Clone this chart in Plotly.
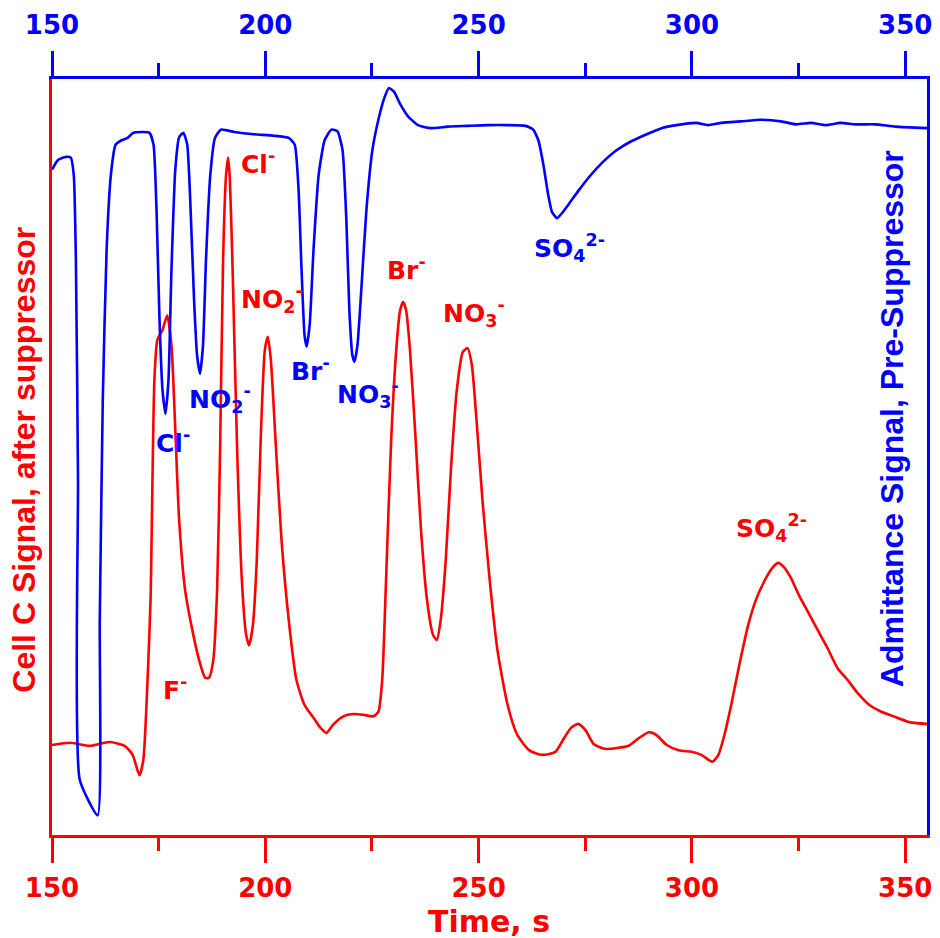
import plotly.graph_objects as go

# ---- data (time in s, signals in arbitrary units 0-100) ----
red_t = [150.0,154.2,158.9,163.5,167.0,168.9,170.5,171.4,172.4,173.1,174.0,174.7,175.9,177.0,178.0,178.9,179.8,181.2,182.9,184.5,185.9,186.8,187.8,188.7,189.4,190.1,190.8,191.3,191.7,192.4,193.4,194.5,195.5,196.2,197.1,198.0,199.0,199.9,200.6,201.3,202.4,203.8,205.5,207.3,209.2,211.3,212.9,214.3,215.9,218.3,220.6,223.0,225.3,226.5,227.4,228.3,229.5,230.7,231.6,232.3,233.0,233.9,235.1,236.5,237.9,239.3,240.2,241.1,242.3,243.5,244.9,246.3,247.4,248.4,249.5,250.9,252.6,254.4,256.8,259.1,261.9,264.9,268.0,269.8,271.7,273.3,275.0,277.0,279.6,282.4,285.2,287.5,289.9,291.7,294.1,296.9,299.9,302.2,304.8,306.2,307.6,309.2,311.1,313.2,315.0,316.9,318.8,320.2,321.6,323.2,325.1,327.2,329.5,331.8,334.1,336.5,338.8,341.6,344.4,347.7,351.2,355.1]
red_v = [11.9,12.2,11.8,12.3,11.8,10.6,7.9,9.9,20.5,31.1,60.2,65.5,66.8,68.7,64.8,53.6,41.7,32.4,27.1,23.1,20.8,20.8,23.1,32.4,50.9,76.1,87.3,89.6,86.6,73.4,50.9,33.7,26.5,25.1,27.8,36.4,53.6,64.2,65.9,62.8,52.2,39.0,28.4,20.5,17.2,15.5,14.2,13.5,14.6,15.7,16.0,15.9,15.7,16.3,20.5,33.7,52.2,64.2,69.4,70.5,69.4,64.2,53.6,40.3,31.1,26.5,25.8,28.4,36.4,48.3,58.9,63.9,64.4,62.2,54.9,44.3,33.7,24.5,17.2,13.2,11.2,10.6,11.0,12.6,14.2,14.7,13.9,12.0,11.4,11.5,11.8,12.8,13.6,13.2,11.9,11.2,11.0,10.6,9.7,10.6,13.2,17.2,22.5,27.8,31.1,33.5,35.3,36.0,35.4,34.0,31.7,29.5,27.1,24.7,22.1,20.5,18.8,17.2,16.3,15.6,14.9,14.7]

blue_t = [150.0,151.4,153.3,154.4,155.1,155.6,156.1,156.5,160.7,161.2,161.9,162.8,163.8,164.9,166.3,167.7,169.1,172.8,173.8,174.5,175.2,175.9,176.6,177.3,178.0,178.9,179.8,180.8,181.7,182.4,183.3,184.0,184.7,185.4,186.1,187.1,188.2,189.6,192.7,197.3,202.0,205.5,206.9,207.8,208.5,209.2,209.7,210.4,211.3,212.5,213.9,215.5,216.9,218.1,219.0,219.7,220.4,220.9,221.6,222.5,223.7,225.1,226.5,227.9,229.0,230.2,231.6,233.4,235.8,238.6,242.8,247.4,252.1,256.8,261.0,262.8,264.0,265.2,266.3,267.2,268.4,269.6,271.2,273.5,276.3,279.1,282.4,285.9,289.4,292.9,296.4,301.0,303.8,306.9,311.5,316.2,320.9,324.4,327.9,331.4,334.8,338.3,343.0,347.7,355.1]
blue_v = [88.0,89.3,89.7,89.6,87.3,76.1,47.0,7.3,2.6,28.4,57.5,77.4,87.3,91.3,91.9,92.2,92.9,92.9,91.3,82.7,68.1,58.9,55.7,60.2,74.7,88.0,92.3,92.9,91.3,84.0,70.8,63.5,61.0,64.8,76.1,87.3,92.2,93.3,93.0,92.7,92.5,92.2,91.3,85.3,74.7,66.1,64.6,67.5,77.4,87.3,91.9,93.3,93.1,90.6,81.3,69.4,63.5,62.6,64.8,72.1,82.7,90.6,94.6,97.5,98.8,98.3,96.7,95.1,93.9,93.5,93.7,93.8,93.9,93.9,93.8,93.3,91.9,88.6,84.7,82.4,81.6,82.3,83.5,85.3,87.3,89.0,90.6,91.8,92.7,93.5,93.9,94.2,93.9,94.2,94.4,94.6,94.4,94.0,94.2,93.9,94.2,94.0,94.0,93.7,93.5]

x_ticks = [150, 200, 250, 300, 350]

red_labels = ["Cl<sup>-</sup>", "NO<sub>2</sub><sup>-</sup>", "Br<sup>-</sup>",
              "NO<sub>3</sub><sup>-</sup>", "SO<sub>4</sub><sup>2-</sup>", "F<sup>-</sup>"]
red_label_t = [193.8, 193.8, 228.1, 241.1, 309.9, 175.6]
red_label_v = [89.0, 70.9, 75.0, 69.0, 40.6, 19.4]

blue_labels = ["Cl<sup>-</sup>", "NO<sub>2</sub><sup>-</sup>", "Br<sup>-</sup>",
               "NO<sub>3</sub><sup>-</sup>", "SO<sub>4</sub><sup>2-</sup>"]
blue_label_t = [174.0, 181.7, 205.5, 216.4, 262.6]
blue_label_v = [52.0, 57.7, 61.6, 58.3, 77.6]

RED = "#FF0000"
BLUE = "#0000FF"
XR = [150, 355.1]

fig = go.Figure()
fig.add_trace(go.Scatter(x=red_t, y=red_v, mode="lines",
                         line=dict(color=RED, width=2.6, shape="spline", smoothing=0.6),
                         xaxis="x", yaxis="y", showlegend=False))
fig.add_trace(go.Scatter(x=blue_t, y=blue_v, mode="lines",
                         line=dict(color=BLUE, width=2.6, shape="spline", smoothing=0.5),
                         xaxis="x2", yaxis="y2", showlegend=False))

tickfont_r = dict(family="DejaVu Sans", size=26, color=RED, weight="bold")
tickfont_b = dict(family="DejaVu Sans", size=26, color=BLUE, weight="bold")

fig.update_layout(
    width=940, height=938,
    margin=dict(l=52, r=8, t=79, b=103),
    paper_bgcolor="white", plot_bgcolor="white",
    xaxis=dict(range=XR, showline=True, linecolor=RED, linewidth=3, showgrid=False, zeroline=False,
               ticks="outside", ticklen=25, tickwidth=3, tickcolor=RED,
               tickmode="array", tickvals=x_ticks, tickfont=tickfont_r, ticklabelstandoff=3,
               minor=dict(ticks="outside", ticklen=13, tickwidth=3, tickcolor=RED, dtick=25, tick0=150),
               anchor="y"),
    xaxis2=dict(range=XR, overlaying="x", side="top", showline=True, linecolor=BLUE, linewidth=3,
                showgrid=False, zeroline=False,
                ticks="outside", ticklen=25, tickwidth=3, tickcolor=BLUE,
                tickmode="array", tickvals=x_ticks, tickfont=tickfont_b, ticklabelstandoff=7,
                minor=dict(ticks="outside", ticklen=13, tickwidth=3, tickcolor=BLUE, dtick=25, tick0=150),
                anchor="y2"),
    yaxis=dict(range=[0, 100], showline=True, linecolor=RED, linewidth=3, showgrid=False,
               zeroline=False, ticks="", showticklabels=False),
    yaxis2=dict(range=[0, 100], overlaying="y", side="right", showline=True, linecolor=BLUE,
                linewidth=3, showgrid=False, zeroline=False, ticks="", showticklabels=False),
)

lab_font_r = dict(family="DejaVu Sans", size=25, color=RED, weight="bold")
lab_font_b = dict(family="DejaVu Sans", size=25, color=BLUE, weight="bold")
for txt, t, v in zip(red_labels, red_label_t, red_label_v):
    fig.add_annotation(x=t, y=v, xref="x", yref="y", text=txt, showarrow=False,
                       xanchor="left", yanchor="middle", font=lab_font_r)
for txt, t, v in zip(blue_labels, blue_label_t, blue_label_v):
    fig.add_annotation(x=t, y=v, xref="x", yref="y", text=txt, showarrow=False,
                       xanchor="left", yanchor="middle", font=lab_font_b)

fig.add_annotation(x=0.499, y=-0.1138, xref="paper", yref="paper", text="Time, s", showarrow=False,
                   xanchor="center", yanchor="middle",
                   font=dict(family="DejaVu Sans", size=30, color=RED, weight="bold"))
fig.add_annotation(x=-0.0324, y=0.496, xref="paper", yref="paper", text="Cell C Signal, after suppressor",
                   showarrow=False, textangle=-90, xanchor="center", yanchor="middle",
                   font=dict(family="Liberation Sans", size=32, color=RED, weight="bold"))
fig.add_annotation(x=0.960, y=0.550, xref="paper", yref="paper", text="Admittance Signal, Pre-Suppressor",
                   showarrow=False, textangle=-90, xanchor="center", yanchor="middle",
                   font=dict(family="Liberation Sans", size=32, color=BLUE, weight="bold"))

fig.write_html("out.html")
